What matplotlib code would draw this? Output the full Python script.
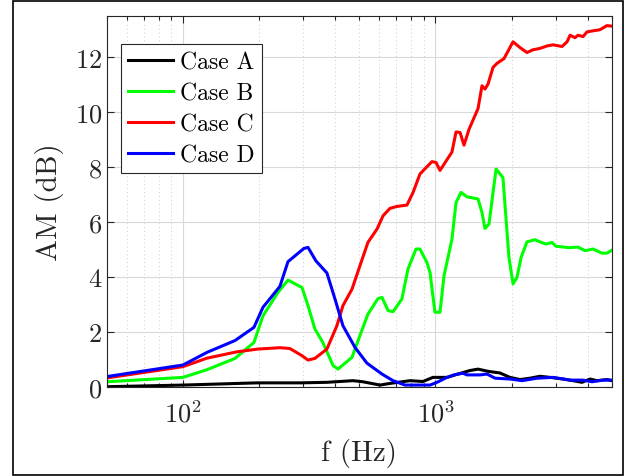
import numpy as np
import matplotlib
matplotlib.use("Agg")
import matplotlib.pyplot as plt
from matplotlib.patches import Rectangle
from matplotlib.ticker import LogLocator, NullFormatter

plt.rcParams['font.family'] = ['cmr10', 'DejaVu Serif']
plt.rcParams['mathtext.fontset'] = 'cm'
plt.rcParams['axes.formatter.use_mathtext'] = True

# Case A (black)
f_a = [50, 100, 196, 290, 371, 471, 516, 603, 660, 793, 892, 977, 1111, 1206,
       1370, 1474, 1614, 1800, 1972, 2162, 2366, 2594, 2840, 3200, 3508, 3803,
       4093, 4364, 4775, 5000]
am_a = [0.01, 0.07, 0.15, 0.15, 0.17, 0.23, 0.19, 0.07, 0.13, 0.23, 0.20, 0.35,
        0.35, 0.45, 0.60, 0.65, 0.57, 0.51, 0.35, 0.27, 0.32, 0.39, 0.35, 0.29,
        0.23, 0.17, 0.29, 0.23, 0.27, 0.23]

# Case B (green)
f_b = [50, 100, 124.5, 160.7, 191, 207.4, 237.8, 260.5, 296, 312.7, 333, 358,
       393, 411, 467, 502, 540, 592, 614, 649, 679, 736, 778, 837, 868, 925,
       951, 995, 1042, 1081, 1162, 1206, 1262, 1333, 1474, 1528, 1570, 1629,
       1690, 1738, 1850, 1954, 2028, 2103, 2182, 2303, 2477, 2594, 2741, 2893,
       3000, 3170, 3350, 3668, 3909, 4207, 4563, 4775, 5000]
am_b = [0.19, 0.35, 0.63, 1.04, 1.62, 2.59, 3.44, 3.89, 3.62, 2.96, 2.11, 1.62,
        0.78, 0.65, 1.08, 1.87, 2.65, 3.22, 3.26, 2.78, 2.74, 3.20, 4.29, 5.02,
        5.02, 4.53, 4.17, 2.72, 2.72, 4.05, 5.38, 6.71, 7.08, 6.92, 6.84, 6.35,
        5.77, 5.93, 7.08, 7.93, 7.62, 4.71, 3.75, 3.99, 4.71, 5.28, 5.36, 5.28,
        5.20, 5.26, 5.12, 5.10, 5.07, 5.09, 4.96, 5.02, 4.87, 4.87, 4.98]

# Case C (red)
f_c = [50, 100, 124.5, 163.6, 198, 242, 265, 296, 312.7, 333, 371.5, 407, 430,
       467, 502, 540, 587, 620, 660, 704, 771, 815, 868, 968, 1005, 1042, 1162,
       1206, 1251, 1297, 1358, 1474, 1528, 1570, 1614, 1690, 1754, 1868, 2028,
       2162, 2303, 2432, 2594, 2767, 2920, 3170, 3319, 3412, 3568, 3668, 3840,
       3981, 4207, 4480, 4775, 5000]
am_c = [0.33, 0.74, 1.05, 1.28, 1.38, 1.43, 1.40, 1.14, 0.98, 1.04, 1.38, 2.23,
        2.96, 3.56, 4.41, 5.26, 5.75, 6.23, 6.50, 6.57, 6.62, 7.08, 7.75, 8.20,
        8.17, 7.88, 8.55, 9.28, 9.26, 8.80, 9.38, 10.13, 10.96, 10.84, 11.02,
        11.63, 11.78, 11.95, 12.56, 12.35, 12.17, 12.27, 12.32, 12.41, 12.45,
        12.39, 12.56, 12.80, 12.71, 12.80, 12.75, 12.92, 12.96, 13.00, 13.15,
        13.13]

# Case D (blue)
f_d = [50, 100, 124.5, 160.7, 191, 207.4, 242, 260.5, 301, 312.7, 336, 371.5,
       400, 430, 480, 535, 614, 679, 757, 951, 1014, 1111, 1194, 1285, 1333,
       1500, 1600, 1722, 1972, 2202, 2523, 2920, 3412, 3840, 4169, 4605, 5000]
am_d = [0.38, 0.80, 1.26, 1.69, 2.17, 2.90, 3.66, 4.56, 5.04, 5.08, 4.59, 4.15,
        3.20, 2.23, 1.44, 0.87, 0.47, 0.23, 0.07, 0.07, 0.17, 0.35, 0.45, 0.50,
        0.44, 0.44, 0.47, 0.32, 0.29, 0.23, 0.32, 0.35, 0.25, 0.25, 0.19, 0.25,
        0.25]

labels = ['Case A', 'Case B', 'Case C', 'Case D']
colors = ['k', (0, 1, 0), (1, 0, 0), (0, 0, 1)]

fig = plt.figure(figsize=(6.30, 4.77), dpi=100)
ax = fig.add_axes([0.1698, 0.1866, 0.8016, 0.7778])

for f, am, lab, col in zip([f_a, f_b, f_c, f_d], [am_a, am_b, am_c, am_d],
                           labels, colors):
    ax.plot(f, am, color=col, lw=2.2, label=lab)

ax.set_xscale('log')
ax.set_xlim(50, 5000)
ax.set_ylim(0, 13.5)
ax.set_yticks(np.arange(0, 13, 2))
ax.xaxis.set_major_locator(LogLocator(base=10, numticks=10))
ax.xaxis.set_minor_locator(LogLocator(base=10, subs=np.arange(2, 10), numticks=10))
ax.xaxis.set_minor_formatter(NullFormatter())

ax.grid(which='major', color=(0.85, 0.85, 0.85), lw=0.8)
ax.grid(which='minor', axis='x', color=(0.8, 0.8, 0.8), lw=0.7, ls=(0, (1, 3)))
ax.set_axisbelow(True)

dark = (0.15, 0.15, 0.15)
ax.tick_params(which='both', direction='in', top=True, right=True, colors=dark,
               labelsize=19, width=0.8)
ax.tick_params(which='major', length=5)
ax.tick_params(which='minor', length=3)
ax.tick_params(axis='x', pad=9)
for s in ax.spines.values():
    s.set_color(dark)
    s.set_linewidth(0.8)

ax.set_xlabel('f (Hz)', fontsize=21, color=dark, labelpad=8)
ax.set_ylabel('AM (dB)', fontsize=21, color=dark, labelpad=8)

leg = ax.legend(loc='upper left', bbox_to_anchor=(0.028, 0.925), fontsize=17,
                handlelength=1.9, handletextpad=0.3, labelspacing=0.38,
                borderpad=0.3, borderaxespad=0, fancybox=False, framealpha=1)
leg.get_frame().set_edgecolor(dark)
leg.get_frame().set_linewidth(0.8)

fig.patches.append(Rectangle((0.0206, 0.002), 0.9684, 0.9938,
                             transform=fig.transFigure, fill=False,
                             edgecolor='k', lw=1.2))

fig.savefig('out.png', dpi=100)
